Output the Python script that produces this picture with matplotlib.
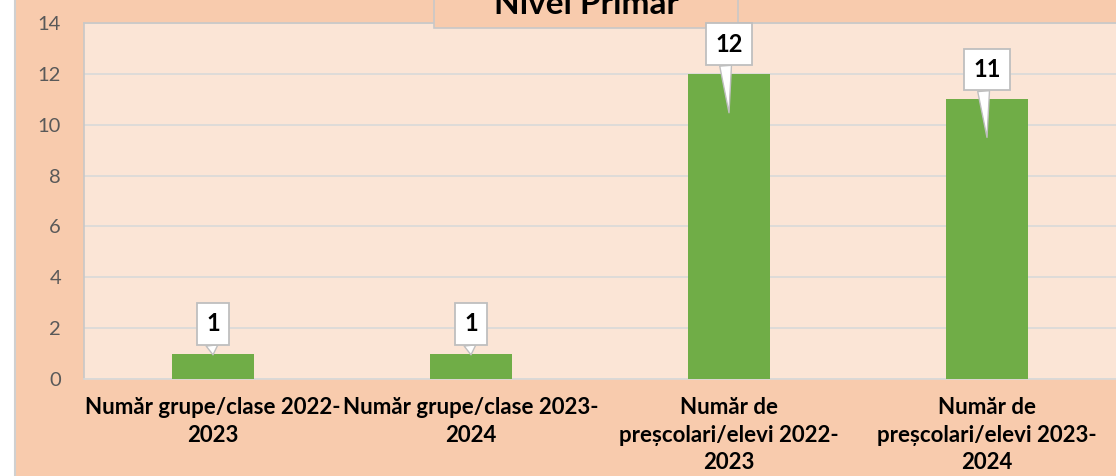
import matplotlib
matplotlib.use("Agg")
import matplotlib.pyplot as plt
from matplotlib.patches import Rectangle

categories = [
    "Număr grupe/clase 2022-\n2023",
    "Număr grupe/clase 2023-\n2024",
    "Număr de\npreșcolari/elevi 2022-\n2023",
    "Număr de\npreșcolari/elevi 2023-\n2024",
]
values = [1, 1, 12, 11]
yticks = [0, 2, 4, 6, 8, 10, 12, 14]
title = "Nivel Primar"

# pointer depth below bar top (data units) for each callout
pointer_depth = [0.05, 0.05, 1.53, 1.5]
label_lift = 1.17  # callout box centre above bar top (data units)

plt.rcParams['font.family'] = ['Lato', 'DejaVu Sans']

W, H = 1116, 476
fig = plt.figure(figsize=(W / 100, H / 100), dpi=100)
fig.patch.set_facecolor('white')

# outer chart area
fig.patches.append(Rectangle((15 / W, -0.01), 1 - 15 / W + 0.01, 1.02, transform=fig.transFigure,
                             facecolor='#F8CBAD', edgecolor='#D0D0D0', linewidth=1.5, zorder=-5))

ax = fig.add_axes([84 / W, 1 - 379 / H, 1 - 84 / W, (379 - 23) / H])
ax.set_zorder(1)
ax.set_facecolor('#FBE5D6')
x = list(range(len(categories)))
ax.bar(x, values, width=0.314, color='#70AD47', zorder=3)
ax.set_xlim(-0.5, len(categories) - 0.5)
ax.set_ylim(0, 14)
ax.set_yticks(yticks)
ax.set_xticks(x)
ax.set_xticklabels(categories, fontsize=16, fontweight='bold', color='black', linespacing=1.38)
ax.tick_params(axis='y', length=0, pad=16.5, labelsize=14.5, labelcolor='#595959')
ax.tick_params(axis='x', length=0, pad=13)
ax.grid(axis='y', color='#D9D9D9', linewidth=1.2, zorder=0)
ax.set_axisbelow(True)
for side in ['left', 'top']:
    ax.spines[side].set_color('#C8C8C8')
    ax.spines[side].set_linewidth(1.2)
ax.spines['bottom'].set_color('#D9D9D9')
ax.spines['bottom'].set_linewidth(1.2)
ax.spines['right'].set_visible(False)

for xi, v, d in zip(x, values, pointer_depth):
    ax.annotate(str(v), xy=(xi, v - d), xytext=(xi, v + label_lift),
                xycoords='data', textcoords='data', ha='center', va='center',
                fontsize=17, fontweight='bold', color='black',
                bbox=dict(boxstyle='square,pad=0.4', fc='white', ec='#BFBFBF', lw=1.3),
                arrowprops=dict(arrowstyle='wedge,tail_width=0.5,shrink_factor=0.5',
                                fc='white', ec='#BFBFBF', lw=1.0,
                                relpos=(0.35, 0.0), shrinkA=0, shrinkB=0),
                zorder=8, annotation_clip=False)

# title box (cut off at top)
ax.add_patch(Rectangle((434 / W, 1 - 28 / H), (738 - 434) / W, 40 / H,
                       transform=fig.transFigure, facecolor='#F8CBAD',
                       edgecolor='#C8C8C8', linewidth=1.2, zorder=6, clip_on=False))
ax.text(586 / W, 1 - 14 / H, title, transform=fig.transFigure, ha='center', va='baseline',
        fontsize=24, fontweight='bold', color='black', zorder=7, clip_on=False)

fig.savefig('out.png', dpi=100)
